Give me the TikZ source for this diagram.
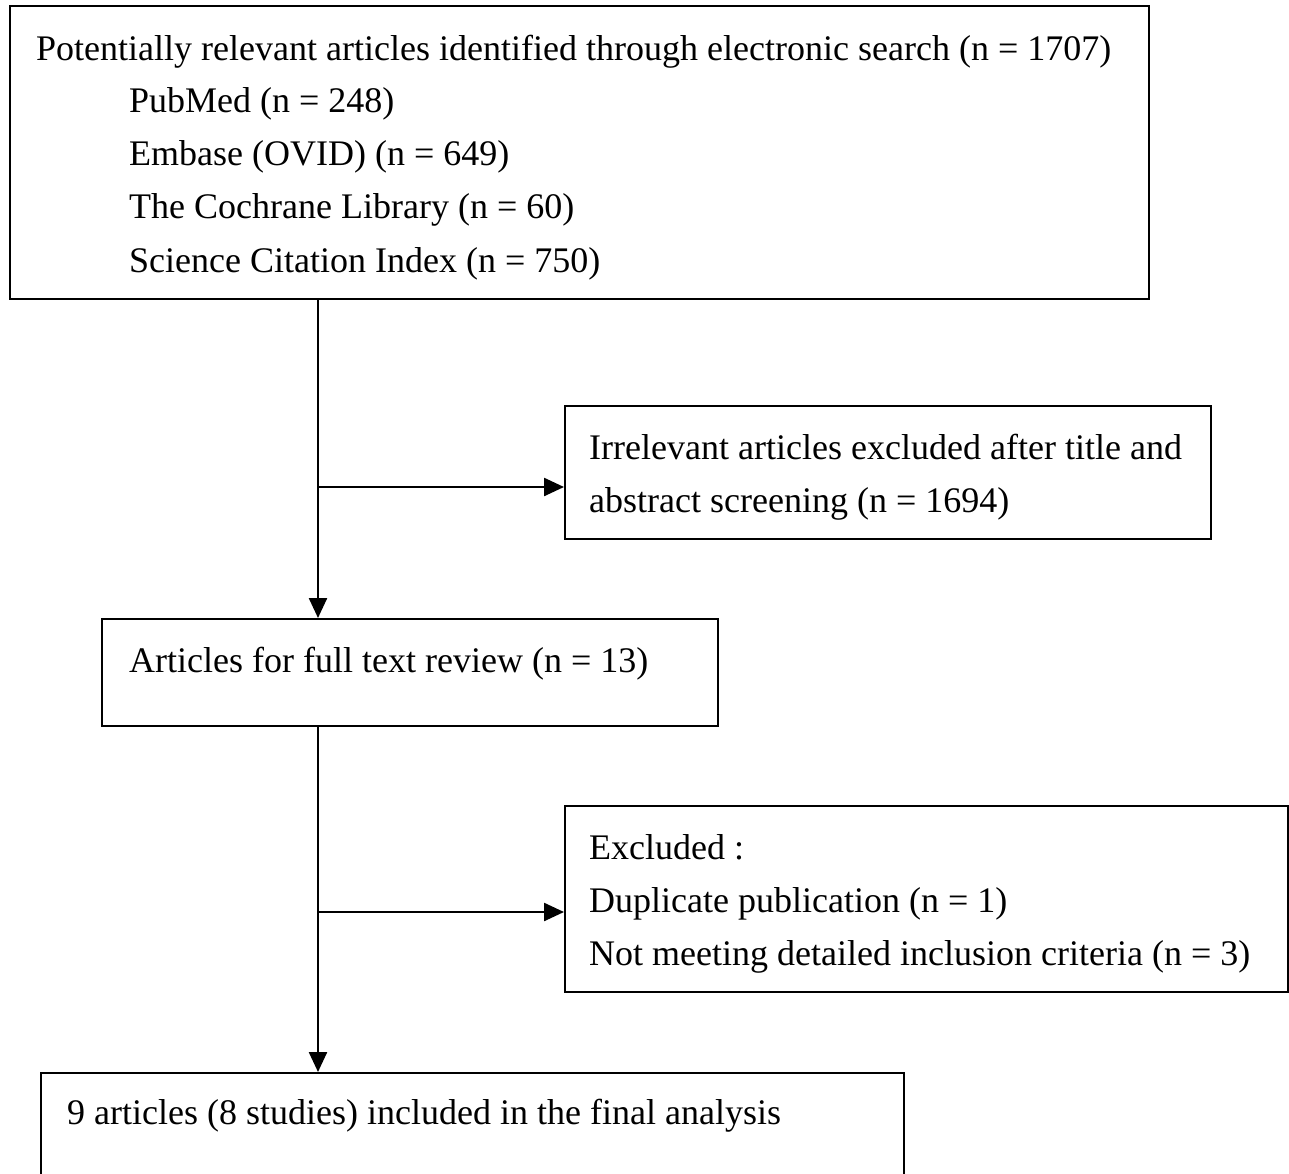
\documentclass[tikz,border=0pt]{standalone}
\usepackage{fontspec}
\setmainfont{Liberation Serif}
\usetikzlibrary{arrows.meta}
\begin{document}
\begin{tikzpicture}[x=1pt,y=-1pt,
  box/.style={draw, line width=2.4pt, inner sep=0pt, anchor=north west},
  txt/.style={anchor=base west, inner sep=0pt, font=\fontsize{36}{53}\selectfont},
  conn/.style={line width=2.4pt},
  arr/.style={conn, -{Triangle[length=20pt,width=18pt]}}]
\useasboundingbox (0,0) rectangle (1289,1174);
% boxes
\node[box, minimum width=1139pt, minimum height=293pt] (b1) at (9,5) {};
\node[box, minimum width=646pt, minimum height=133pt] (b2) at (564,405) {};
\node[box, minimum width=616pt, minimum height=107pt] (b3) at (101,618) {};
\node[box, minimum width=723pt, minimum height=186pt] (b4) at (564,805) {};
\node[box, minimum width=863pt, minimum height=160pt] (b5) at (40,1072) {};
% texts
\node[txt] (t1) at (36,61) {Potentially relevant articles identified through electronic search (n = 1707)};
\node[txt] (t1a) at (129,113) {PubMed (n = 248)};
\node[txt] (t1b) at (129,166) {Embase (OVID) (n = 649)};
\node[txt] (t1c) at (129,219) {The Cochrane Library (n = 60)};
\node[txt] (t1d) at (129,272) {Science Citation Index (n = 750)};
\node[txt] (t2a) at (589,459) {Irrelevant articles excluded after title and};
\node[txt] (t2b) at (589,512) {abstract screening (n = 1694)};
\node[txt] (t3) at (129,672) {Articles for full text review (n = 13)};
\node[txt] (t4a) at (589,859) {Excluded :};
\node[txt] (t4b) at (589,912) {Duplicate publication (n = 1)};
\node[txt] (t4c) at (589,965) {Not meeting detailed inclusion criteria (n = 3)};
\node[txt] (t5) at (67,1124) {9 articles (8 studies) included in the final analysis};
% connectors
\coordinate (j1) at (318,487);
\coordinate (j2) at (318,912);
\draw[arr] (b1.south -| j1) -- (b3.north -| j1);
\draw[arr] (j1) -- (j1 -| b2.west);
\draw[arr] (b3.south -| j2) -- (b5.north -| j2);
\draw[arr] (j2) -- (j2 -| b4.west);
\end{tikzpicture}
\end{document}
